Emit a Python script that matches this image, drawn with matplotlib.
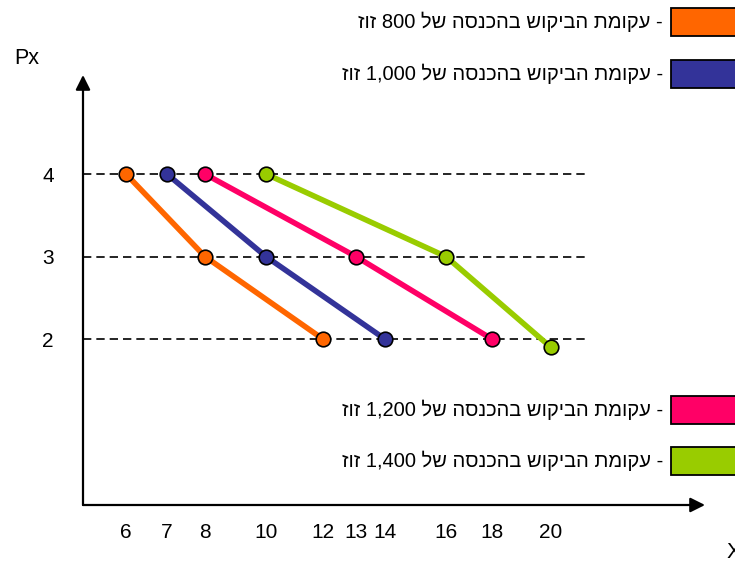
import re

import matplotlib
matplotlib.use("Agg")
import matplotlib.pyplot as plt
import numpy as np
from matplotlib.patches import Rectangle

plt.rcParams["font.family"] = ["Liberation Sans", "DejaVu Sans"]

# data
price = [4, 3, 2]
qty_800 = [6, 8, 12]
qty_1000 = [7, 10, 14]
qty_1200 = [8, 13, 18]
qty_1400 = [10, 16, 20]
price_1400 = [4, 3, 1.9]
incomes = ["800", "1,000", "1,200", "1,400"]
x_ticks = [6, 7, 8, 10, 12, 13, 14, 16, 18, 20]
y_ticks = [2, 3, 4]

colors = ["#FF6600", "#333399", "#FF0066", "#99CC00"]

# hand-drawn, uneven spacing of the x axis (value -> pixel)
AXIS_VALS = [5, 6, 7, 8, 10, 12, 13, 14, 16, 18, 20, 24]
AXIS_POS = [83, 126, 167, 205, 266, 323, 356, 385, 446, 492, 551, 705]

W, H = 735, 562


def fwd(v):
    return np.interp(v, AXIS_VALS, AXIS_POS)


def inv(p):
    return np.interp(p, AXIS_POS, AXIS_VALS)


def visual(text):
    """Put logical RTL Hebrew text into left-to-right drawing order."""
    rev = text[::-1]
    return re.sub(r"[\d,]+", lambda m: m.group(0)[::-1], rev)


fig = plt.figure(figsize=(W / 100, H / 100), dpi=100)
ax = fig.add_axes([83 / W, (H - 505) / H, (705 - 83) / W, (505 - 75) / H])
ax.set_xscale("function", functions=(fwd, inv))
ax.set_xlim(5, 24)
ax.set_ylim(-0.01, 5.2)
for s in ax.spines.values():
    s.set_visible(False)

# axes with arrow heads
arrow = dict(arrowstyle="-|>", color="black", lw=1.6, mutation_scale=22,
             shrinkA=0, shrinkB=0)
ax.annotate("", xy=(0, 1), xytext=(0, 0), xycoords="axes fraction",
            arrowprops=arrow, annotation_clip=False)
ax.annotate("", xy=(1, 0), xytext=(0, 0), xycoords="axes fraction",
            arrowprops=arrow, annotation_clip=False)

for p in price:
    ax.axhline(p, xmin=0, xmax=(589 - 83) / (705 - 83), color="black",
               lw=1.2, ls=(0, (5, 3)), zorder=1)

series = [(qty_800, price), (qty_1000, price), (qty_1200, price),
          (qty_1400, price_1400)]
for (q, p), c in zip(series, colors):
    ax.plot(q, p, color=c, lw=4, marker="o", ms=10.5, mfc=c, mec="black",
            mew=1.2, zorder=3, clip_on=False)

ax.set_xticks(x_ticks)
ax.set_xticklabels([str(t) for t in x_ticks])
ax.set_yticks(y_ticks)
ax.set_yticklabels([str(t) for t in y_ticks])
ax.tick_params(axis="x", length=0, pad=13, labelsize=15)
ax.tick_params(axis="y", length=0, pad=21, labelsize=15)
ax.minorticks_off()

fig.text(27 / W, 1 - 58 / H, "Px", fontsize=15.5, ha="center", va="center")
fig.text(727 / W, 1 - 552 / H, "X", fontsize=15.5, ha="left", va="center")

# legend boxes
box_tops = [8, 60, 396, 447]
for inc, c, top in zip(incomes, colors, box_tops):
    fig.add_artist(Rectangle((671 / W, 1 - (top + 28) / H), 80 / W, 28 / H,
                             facecolor=c, edgecolor="black", lw=1.3,
                             transform=fig.transFigure))
    label = "- עקומת הביקוש בהכנסה של " + inc + " זוז"
    fig.text(663 / W, 1 - (top + 14) / H, visual(label), fontsize=14.5,
             ha="right", va="center")

fig.savefig("out.png", dpi=100)
